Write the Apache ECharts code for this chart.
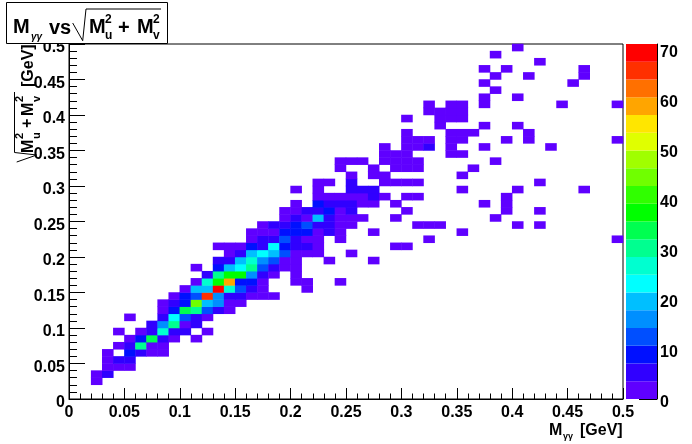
<!DOCTYPE html>
<html><head><meta charset="utf-8">
<style>html,body{margin:0;padding:0;background:#fff}#c{width:692px;height:444px}</style>
<script src="https://cdn.jsdelivr.net/npm/echarts@6/dist/echarts.min.js"></script>
</head><body><div id="c"></div>
<script>
// 50 x 50 bins over 0..0.5 GeV
const xBins = Array.from({length:50},(_,i)=>i);
const yBins = Array.from({length:50},(_,i)=>i);
// counts per y-bin: [x-bin, count]
const rowCounts = {
 2:[[2,1]],
 3:[[2,1],[3,5]],
 4:[[3,1],[4,1],[5,1]],
 5:[[3,1],[4,5],[5,5]],
 6:[[3,1],[5,9],[6,5],[7,1],[8,1]],
 7:[[4,1],[5,5],[6,30],[7,1],[8,1]],
 8:[[5,1],[6,9],[7,33],[8,5],[9,1],[11,1]],
 9:[[4,1],[6,1],[7,5],[8,27],[9,5],[10,5],[12,1]],
 10:[[7,5],[8,16],[9,30],[10,1],[11,5]],
 11:[[5,1],[8,5],[9,23],[10,12],[11,5],[12,1]],
 12:[[8,1],[9,9],[10,33],[11,30],[12,12],[13,5],[14,1]],
 13:[[8,1],[9,5],[10,9],[11,44],[12,20],[13,16],[14,1],[15,1]],
 14:[[9,1],[10,9],[11,12],[12,66],[13,16],[14,5],[15,5],[16,1],[17,1],[18,1]],
 15:[[10,1],[11,20],[12,20],[13,70],[14,27],[15,12],[16,5],[17,1],[21,1]],
 16:[[11,1],[12,27],[13,37],[14,59],[15,9],[16,9],[17,1],[20,1],[21,1],[24,1]],
 17:[[12,5],[13,30],[14,37],[15,37],[16,16],[17,5],[18,1],[20,1]],
 18:[[11,1],[13,9],[14,20],[15,23],[16,30],[17,12],[18,5],[19,1],[20,1]],
 19:[[13,5],[14,5],[15,20],[16,27],[17,16],[18,12],[19,1],[20,1],[23,1],[27,1]],
 20:[[14,1],[15,5],[16,20],[17,23],[18,20],[19,12],[20,1],[21,1],[22,1],[25,1]],
 21:[[13,1],[14,1],[15,1],[16,9],[17,5],[18,23],[19,9],[20,5],[21,5],[22,1],[29,1],[30,1]],
 22:[[16,1],[17,5],[18,5],[19,12],[20,5],[21,1],[22,1],[24,1],[32,1],[49,1]],
 23:[[16,1],[17,1],[18,1],[19,9],[20,9],[21,9],[22,1],[23,5],[24,1],[27,1],[35,1]],
 24:[[17,1],[18,5],[19,5],[20,9],[21,12],[22,5],[23,5],[24,1],[25,1],[31,1],[32,1],[33,1],[40,1],[42,1]],
 25:[[19,1],[20,5],[21,1],[22,20],[23,5],[24,1],[25,1],[26,1],[29,1],[38,1]],
 26:[[19,1],[20,1],[21,5],[22,5],[23,9],[24,1],[25,5],[30,1],[39,1],[42,1]],
 27:[[20,1],[22,9],[23,5],[24,5],[25,5],[26,1],[27,1],[29,1],[37,1],[39,1]],
 28:[[22,1],[23,1],[24,1],[25,1],[26,1],[27,5],[28,1],[30,1],[31,1],[39,1]],
 29:[[20,1],[22,1],[25,5],[26,5],[27,5],[35,1],[40,1],[46,1]],
 30:[[22,1],[23,1],[25,5],[28,1],[29,1],[30,1],[31,1],[42,1]],
 31:[[25,1],[27,1],[28,1],[35,1]],
 32:[[24,1],[27,1],[29,1],[30,1],[31,1],[36,1]],
 33:[[24,1],[25,1],[26,1],[28,1],[29,1],[30,1],[31,1],[38,1]],
 34:[[28,1],[29,1],[30,1],[34,1],[35,1]],
 35:[[28,1],[30,1],[31,1],[32,5],[34,1],[37,1],[43,1]],
 36:[[30,1],[31,1],[32,1],[34,1],[35,1],[39,1],[41,1],[49,1]],
 37:[[30,1],[34,1],[35,1],[36,1],[41,1]],
 38:[[33,1],[37,1],[40,1]],
 39:[[30,1],[33,1],[34,1],[35,1]],
 40:[[32,1],[33,1],[34,1],[35,1]],
 41:[[32,1],[34,1],[35,1],[37,1],[44,1],[49,1]],
 42:[[37,1],[40,1]],
 43:[[38,1]],
 44:[[37,1],[45,1]],
 45:[[38,1],[41,1],[46,1]],
 46:[[37,1],[39,1],[46,1]],
 47:[[42,1]],
 48:[[38,1]],
 49:[[40,1]]
};
const levelColors = ['#5f00ff','#3000ff','#0010ff','#004fff','#008fff','#00bfff','#00ffff','#00ffd0','#00ff90','#00ff50',
 '#00ff00','#30ff00','#70ff00','#a0ff00','#e0ff00','#ffe600','#ffa500','#ff7000','#ff3000','#ff0000'];
const zMax = 71;
const zTicks = [0,10,20,30,40,50,60,70];

const cells = [];
Object.keys(rowCounts).forEach(iy => rowCounts[iy].forEach(c => cells.push([c[0], +iy, c[1]])));
const step = zMax / levelColors.length;
const pieces = levelColors.map((color,i)=>({min:i*step,max:(i+1)*step,color}));

const FONT='"Liberation Sans"';
const lab={fontFamily:FONT,fontWeight:'bold',fontSize:16,color:'#000'};
const line={lineStyle:{color:'#000',width:1}};
const G={left:69,top:44,width:554,height:355};

function txt(x,y,text,size,italic){
  return {type:'text',z:30,x,y,style:{text,fontFamily:FONT,fontWeight:'bold',fontStyle:italic?'italic':'normal',fontSize:size,fill:'#000',textVerticalAlign:'middle'}};
}
// text reading bottom to top; (x, y) is where the text starts
function vtxt(x,y,text,size){
  const t=txt(x,y,text,size);
  t.rotation=Math.PI/2;
  return t;
}
const option={
 animation:false,
 backgroundColor:'#fff',
 grid:[
  Object.assign({show:true,borderColor:'#000',borderWidth:1,backgroundColor:'#fff',containLabel:false},G),
  {left:626,top:44,width:31,height:355,containLabel:false}
 ],
 visualMap:{type:'piecewise',show:false,seriesIndex:0,dimension:2,pieces},
 xAxis:[
  {type:'value',gridIndex:0,min:0,max:0.5,interval:0.05,position:'bottom',splitLine:{show:false},
   axisLine:{show:true,onZero:false,...line},
   axisTick:{show:true,inside:true,length:11,...line},
   minorTick:{show:true,splitNumber:5,length:5.5,lineStyle:{color:'#000',width:1}},
   axisLabel:{...lab,margin:6,formatter:v=>String(+v.toFixed(2))}},
  {type:'category',gridIndex:0,data:xBins,show:false},
  {type:'category',gridIndex:1,data:['z'],show:false}
 ],
 yAxis:[
  {type:'value',gridIndex:0,min:0,max:0.5,interval:0.05,position:'left',splitLine:{show:false},
   axisLine:{show:true,onZero:false,...line},
   axisTick:{show:true,inside:true,length:16,...line},
   minorTick:{show:true,splitNumber:5,length:8,lineStyle:{color:'#000',width:1}},
   axisLabel:{...lab,margin:4,verticalAlign:'top',lineHeight:8,formatter:v=>String(+v.toFixed(2))}},
  {type:'category',gridIndex:0,data:yBins,show:false},
  {type:'value',gridIndex:1,min:0,max:zMax,position:'right',splitLine:{show:false},
   axisLine:{show:true,...line},
   axisTick:{show:true,inside:true,length:18,customValues:zTicks,...line},
   axisLabel:{...lab,margin:3,verticalAlign:'top',lineHeight:8,customValues:zTicks}}
 ],
 series:[
  {type:'heatmap',xAxisIndex:1,yAxisIndex:1,data:cells,progressive:0,emphasis:{disabled:true},z:1}
 ].concat(levelColors.map(color=>({
   type:'bar',xAxisIndex:2,yAxisIndex:2,stack:'bar',barWidth:'100%',data:[step],
   itemStyle:{color},silent:true,z:1
 }))),
 graphic:{elements:[
  {type:'rect',z:20,shape:{x:6.5,y:2.5,width:161,height:41},style:{fill:'#fff',stroke:'#000',lineWidth:1}},
  txt(13,27,'M',20),
  txt(31,37,'γγ',10,true),
  txt(49,28,'vs',20),
  {type:'polyline',z:30,shape:{points:[[72.7,23],[82.7,40.7],[86,9],[161,9]]},style:{stroke:'#000',lineWidth:1,fill:null}},
  txt(89,27,'M',20),
  txt(105,20,'2',12),
  txt(105,36,'u',12),
  txt(118,28,'+',20),
  txt(137,27,'M',20),
  txt(153,20,'2',12),
  txt(153,36,'v',12),
  // y axis title
  vtxt(28.5,87,'[GeV]',16),
  vtxt(28.5,153,'M',16),
  vtxt(20,139,'2',11),
  vtxt(37,139,'u',11),
  vtxt(28,128,'+',16),
  vtxt(28.5,116,'M',16),
  vtxt(20,102,'2',11),
  vtxt(37,102,'v',11),
  {type:'polyline',z:30,shape:{points:[[14.5,92],[14.5,152.5],[36.7,155],[16.7,162]]},style:{stroke:'#000',lineWidth:1,fill:null}},
  // x axis title
  txt(549,431,'M',16),
  txt(563,437,'γγ',9),
  txt(580,431,'[GeV]',16)
 ]}
};
const chart=echarts.init(document.getElementById('c'),null,{renderer:'canvas'});
chart.setOption(option);
</script></body></html>
